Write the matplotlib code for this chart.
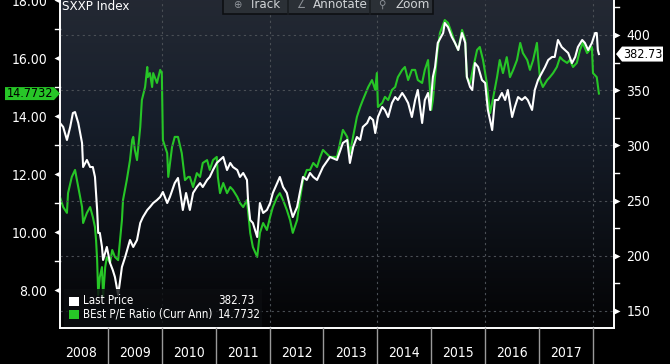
import numpy as np
import matplotlib
matplotlib.use("Agg")
import matplotlib.pyplot as plt
from matplotlib.patches import Rectangle, Polygon
from matplotlib import transforms

plt.rcParams['font.family'] = ['DejaVu Sans']
plt.rcParams['font.stretch'] = 'condensed'

# ---------------- data ----------------
price_dates = [2008.11, 2008.17, 2008.24, 2008.30, 2008.35, 2008.39, 2008.45, 2008.52, 2008.54, 2008.61,
               2008.67, 2008.72, 2008.76, 2008.80, 2008.82, 2008.85, 2008.89, 2008.91, 2008.98, 2009.04,
               2009.09, 2009.13, 2009.19, 2009.26, 2009.32, 2009.41, 2009.47, 2009.54, 2009.60, 2009.65,
               2009.73, 2009.78, 2009.84, 2009.91, 2009.97, 2010.02, 2010.10, 2010.15, 2010.24, 2010.30,
               2010.34, 2010.39, 2010.45, 2010.52, 2010.58, 2010.65, 2010.71, 2010.76, 2010.84, 2010.89,
               2010.95, 2011.02, 2011.08, 2011.14, 2011.21, 2011.27, 2011.32, 2011.40, 2011.45, 2011.51,
               2011.58, 2011.60, 2011.64, 2011.69, 2011.77, 2011.82, 2011.88, 2011.95, 2012.01, 2012.06,
               2012.14, 2012.19, 2012.25, 2012.32, 2012.38, 2012.43, 2012.51, 2012.56, 2012.62, 2012.69,
               2012.75, 2012.81, 2012.88, 2012.94, 2012.99, 2013.12, 2013.25, 2013.36, 2013.44, 2013.49,
               2013.55, 2013.62, 2013.68, 2013.73, 2013.81, 2013.86, 2013.92, 2013.96, 2014.01, 2014.09,
               2014.14, 2014.20, 2014.27, 2014.33, 2014.38, 2014.46, 2014.51, 2014.57, 2014.64, 2014.70,
               2014.75, 2014.83, 2014.88, 2014.94, 2014.98, 2015.03, 2015.07, 2015.12, 2015.22, 2015.25,
               2015.31, 2015.38, 2015.44, 2015.50, 2015.57, 2015.63, 2015.66, 2015.72, 2015.76, 2015.81,
               2015.87, 2015.94, 2016.00, 2016.05, 2016.13, 2016.18, 2016.24, 2016.31, 2016.37, 2016.42,
               2016.50, 2016.55, 2016.61, 2016.68, 2016.74, 2016.79, 2016.87, 2016.92, 2016.98, 2017.05,
               2017.11, 2017.17, 2017.24, 2017.29, 2017.35, 2017.42, 2017.48, 2017.54, 2017.61, 2017.67,
               2017.72, 2017.80, 2017.85, 2017.91, 2017.98, 2018.04, 2018.07, 2018.09, 2018.11]
price_values = [320.3, 316.7, 304.9, 316.7, 329.3, 330.2, 320.3, 302.2, 280.4, 286.8,
                280.4, 280.4, 271.4, 241.5, 220.7, 220.7, 208.0, 196.2, 208.0, 193.5,
                187.1, 180.8, 164.5, 189.9, 198.9, 214.3, 208.0, 214.3, 229.7, 235.1,
                241.5, 244.2, 247.8, 250.5, 253.3, 257.8, 247.8, 253.3, 265.9, 270.5,
                258.0, 241.5, 256.9, 241.5, 256.9, 262.3, 265.9, 262.3, 268.7, 271.4,
                277.7, 284.1, 286.8, 289.5, 277.7, 284.1, 280.4, 277.7, 271.4, 275.0,
                268.7, 250.5, 232.4, 229.7, 217.0, 247.8, 238.8, 241.5, 247.8, 256.9,
                265.9, 271.4, 262.3, 256.9, 244.2, 235.1, 244.2, 256.9, 271.4, 268.7,
                275.0, 271.4, 268.7, 275.0, 280.4, 289.5, 286.8, 302.2, 304.9, 284.1,
                298.5, 307.6, 304.9, 316.7, 320.3, 325.7, 323.0, 311.2, 325.7, 334.8,
                332.1, 325.7, 338.4, 343.8, 341.1, 347.5, 343.8, 338.4, 325.7, 341.1,
                350.2, 320.3, 341.1, 347.5, 332.1, 362.0, 371.0, 392.8, 401.8, 410.9,
                407.2, 398.2, 392.8, 386.4, 401.8, 392.8, 362.0, 352.9, 350.2, 374.6,
                371.0, 359.2, 356.5, 332.1, 313.9, 341.1, 341.1, 347.5, 341.1, 350.2,
                325.7, 334.8, 343.8, 341.1, 343.8, 341.1, 332.1, 350.2, 359.2, 365.6,
                371.0, 377.4, 380.1, 380.1, 395.5, 389.1, 386.4, 383.7, 374.6, 380.1,
                389.1, 395.5, 392.8, 386.4, 392.8, 401.8, 401.8, 386.4, 382.73]

pe_dates = [2008.11, 2008.17, 2008.24, 2008.26, 2008.33, 2008.39, 2008.45, 2008.52, 2008.54, 2008.61,
            2008.67, 2008.72, 2008.76, 2008.78, 2008.80, 2008.82, 2008.85, 2008.89, 2008.91, 2008.95,
            2008.98, 2009.04, 2009.08, 2009.13, 2009.19, 2009.22, 2009.26, 2009.28, 2009.35, 2009.41,
            2009.45, 2009.47, 2009.50, 2009.54, 2009.60, 2009.63, 2009.69, 2009.73, 2009.74, 2009.78,
            2009.82, 2009.84, 2009.91, 2009.97, 2010.00, 2010.02, 2010.10, 2010.12, 2010.19, 2010.24,
            2010.30, 2010.37, 2010.43, 2010.49, 2010.52, 2010.58, 2010.65, 2010.71, 2010.76, 2010.84,
            2010.89, 2010.95, 2011.02, 2011.04, 2011.08, 2011.14, 2011.21, 2011.27, 2011.32, 2011.40,
            2011.45, 2011.51, 2011.58, 2011.64, 2011.69, 2011.77, 2011.82, 2011.88, 2011.95, 2012.01,
            2012.06, 2012.14, 2012.19, 2012.25, 2012.32, 2012.38, 2012.43, 2012.51, 2012.56, 2012.62,
            2012.69, 2012.75, 2012.81, 2012.88, 2012.94, 2012.99, 2013.12, 2013.25, 2013.36, 2013.44,
            2013.49, 2013.62, 2013.68, 2013.73, 2013.83, 2013.90, 2013.96, 2013.99, 2014.01, 2014.09,
            2014.14, 2014.20, 2014.27, 2014.33, 2014.38, 2014.46, 2014.51, 2014.57, 2014.64, 2014.70,
            2014.75, 2014.83, 2014.88, 2014.94, 2015.00, 2015.03, 2015.11, 2015.16, 2015.25, 2015.31,
            2015.38, 2015.44, 2015.50, 2015.57, 2015.63, 2015.66, 2015.72, 2015.78, 2015.85, 2015.90,
            2015.96, 2016.03, 2016.09, 2016.14, 2016.22, 2016.27, 2016.33, 2016.40, 2016.46, 2016.52,
            2016.59, 2016.65, 2016.70, 2016.78, 2016.83, 2016.89, 2016.96, 2016.98, 2017.02, 2017.07,
            2017.15, 2017.20, 2017.26, 2017.33, 2017.39, 2017.44, 2017.52, 2017.57, 2017.63, 2017.70,
            2017.76, 2017.81, 2017.89, 2017.94, 2017.98, 2018.00, 2018.07, 2018.11]
pe_values = [11.21, 10.86, 10.66, 11.34, 11.90, 12.14, 11.55, 10.86, 10.31, 10.66,
             10.86, 10.52, 10.17, 9.72, 9.03, 7.83, 8.45, 8.79, 7.76, 8.79,
             9.14, 8.93, 9.38, 9.14, 9.03, 9.62, 10.41, 11.10, 11.79, 12.48,
             13.17, 13.28, 12.83, 12.48, 13.62, 14.55, 15.00, 15.69, 15.34, 15.48,
             15.00, 15.48, 15.14, 15.59, 15.48, 13.17, 12.72, 11.90, 12.93, 13.28,
             13.28, 12.72, 11.79, 11.90, 11.90, 11.55, 12.03, 11.90, 12.38, 12.48,
             12.14, 12.48, 12.59, 11.90, 11.34, 11.69, 11.34, 11.55, 11.45, 11.21,
             11.00, 10.86, 11.10, 9.97, 9.48, 9.14, 9.97, 10.31, 10.07, 10.52,
             10.86, 11.21, 11.34, 11.10, 10.76, 10.41, 9.97, 10.41, 11.10, 11.79,
             12.14, 12.14, 12.38, 12.24, 12.59, 12.83, 12.59, 12.59, 13.52, 13.28,
             12.72, 13.97, 14.31, 14.55, 15.00, 15.24, 14.90, 15.48, 14.31, 14.45,
             14.66, 14.55, 14.90, 15.00, 15.34, 15.59, 15.69, 15.24, 15.59, 15.59,
             15.24, 15.14, 15.59, 15.93, 14.21, 14.55, 16.17, 16.86, 17.31, 17.21,
             16.86, 16.52, 16.28, 16.97, 16.62, 15.34, 15.14, 15.69, 16.28, 16.38,
             15.93, 15.14, 14.10, 14.55, 15.34, 15.93, 15.48, 16.03, 15.34, 15.59,
             15.93, 16.52, 16.17, 15.93, 15.59, 15.93, 16.52, 16.03, 15.24, 15.00,
             15.24, 15.34, 15.48, 15.69, 16.03, 15.93, 15.83, 15.93, 15.69, 15.83,
             16.28, 16.52, 16.17, 16.28, 16.38, 15.48, 15.34, 14.7732]

years = ['2008', '2009', '2010', '2011', '2012', '2013', '2014', '2015', '2016', '2017']
pe_ticks = [8, 10, 12, 14, 16, 18]
price_ticks = [150, 200, 250, 300, 350, 400]
series_names = ['Last Price', 'BEst P/E Ratio (Curr Ann)']
last_price_label = '382.73'
last_pe_label = '14.7732'
title_text = 'SXXP Index'
toolbar_items = ['Track', 'Annotate', 'Zoom']

# ---------------- style ----------------
W, H = 670, 364
GREEN = '#27c627'
fig = plt.figure(figsize=(W / 100, H / 100), dpi=100, facecolor='black')


def fx(x):
    return x / W


def fy(y):
    return 1 - y / H


AX_L, AX_R, AX_T, AX_B = 60, 614, 0, 328
ax = fig.add_axes([fx(AX_L), fy(AX_B), fx(AX_R - AX_L), (AX_B - AX_T) / H])
ax2 = ax.twinx()

XMIN, XMAX = 2008.111, 2018.39
ax.set_xlim(XMIN, XMAX)
ax.set_ylim(6.69, 18.0)
ax2.set_ylim(134.6, 431.7)

# gradient background
grad = np.linspace(0, 1, 256)
top = np.array([0.14, 0.16, 0.20])
mid = np.array([0.09, 0.12, 0.17])
bot = np.array([0.015, 0.015, 0.02])
cols = []
for g in grad:
    if g < 0.35:
        t = g / 0.35
        c = top * (1 - t) + mid * t
    else:
        t = (g - 0.35) / 0.65
        c = mid * (1 - t) + bot * t
    cols.append(c)
img = np.array(cols)[:, None, :]
ax.imshow(img, extent=[0, 1, 0, 1], transform=ax.transAxes, aspect='auto', zorder=0,
          interpolation='bilinear')
ax.set_facecolor('black')

# grid
for v in price_ticks:
    ax2.axhline(v, color='#4a4f55', lw=0.8, ls=(0, (2, 3)), zorder=1)
for yr in [2010, 2012, 2014, 2016, 2018]:
    ax.axvline(yr, color='#4a4f55', lw=0.8, ls=(0, (2, 3)), zorder=1)

# lines
ax.plot(pe_dates, pe_values, color=GREEN, lw=1.5, zorder=3)
ax2.plot(price_dates, price_values, color='white', lw=1.5, zorder=3)

# spines
for a in (ax, ax2):
    a.spines['top'].set_visible(False)
    for s in ('left', 'right', 'bottom'):
        a.spines[s].set_color('white')
        a.spines[s].set_linewidth(1.2)
    a.set_xticks([])
    a.tick_params(axis='y', length=0)

ax.set_yticks(pe_ticks)
ax.set_yticklabels(['%.2f' % v for v in pe_ticks], color='white', fontsize=10)
ax.tick_params(axis='y', pad=9)
ax2.set_yticks(price_ticks)
ax2.set_yticklabels([str(v) for v in price_ticks], color='white', fontsize=10)
ax2.tick_params(axis='y', pad=9)

# triangle ticks and minor ticks
left_tr = transforms.blended_transform_factory(ax.transAxes, ax.transData)
right_tr = transforms.blended_transform_factory(ax2.transAxes, ax2.transData)
for v in pe_ticks:
    ax.plot([0], [v], marker='<', ms=5, color='white', mec='none', clip_on=False,
            transform=left_tr + transforms.ScaledTranslation(-3 / 100, 0, fig.dpi_scale_trans), zorder=5)
for v in [9, 11, 13, 15, 17]:
    ax.plot([-0.009, 0], [v, v], color='white', lw=1, clip_on=False, transform=left_tr, zorder=5)
for v in price_ticks:
    ax2.plot([1], [v], marker='>', ms=5, color='white', mec='none', clip_on=False,
             transform=right_tr + transforms.ScaledTranslation(3 / 100, 0, fig.dpi_scale_trans), zorder=5)
for v in [175, 225, 275, 325, 375, 425]:
    ax2.plot([1, 1.009], [v, v], color='white', lw=1, clip_on=False, transform=right_tr, zorder=5)

# year labels and separators
for yr in years:
    y0 = int(yr)
    xd = (y0 + 0.5 - XMIN) / (XMAX - XMIN)
    fig.text(fx(AX_L + xd * (AX_R - AX_L)), fy(353), yr, color='white', fontsize=10,
             ha='center', va='center')
for y0 in range(2009, 2019):
    xd = (y0 - XMIN) / (XMAX - XMIN)
    xp = AX_L + xd * (AX_R - AX_L)
    fig.add_artist(plt.Line2D([fx(xp), fx(xp)], [fy(AX_B), 0], color='#9a9a9a', lw=1,
                              transform=fig.transFigure))

# title
fig.text(fx(62), fy(7), title_text, color='white', fontsize=9.5, ha='left', va='center')

# legend box
fig.add_artist(Rectangle((fx(64), fy(327)), fx(262 - 64), (327 - 289) / H, transform=fig.transFigure,
                         facecolor='#0b0d10', alpha=0.82, edgecolor='none', zorder=10))
for i, (name, val, col) in enumerate(zip(series_names, [last_price_label, last_pe_label], ['white', GREEN])):
    yc = 301 + i * 13
    fig.add_artist(Rectangle((fx(69), fy(yc + 4.5)), fx(10), 9 / H, transform=fig.transFigure,
                             facecolor=col, edgecolor='none', zorder=11))
    fig.text(fx(83), fy(yc), name, color='white', fontsize=8.3, ha='left', va='center', zorder=12)
    fig.text(fx(218), fy(yc), val, color='white', fontsize=8.3, ha='left', va='center', zorder=12)

# toolbar
fig.add_artist(Rectangle((fx(223), fy(14)), fx(433 - 223), 20 / H, transform=fig.transFigure,
                         facecolor='#2b3036', edgecolor='#0d0f12', lw=1.2, zorder=10))
for xs in [288, 370]:
    fig.add_artist(plt.Line2D([fx(xs), fx(xs)], [fy(14), 1], color='#1a1d21', lw=1.2,
                              transform=fig.transFigure, zorder=11))
icons = ['\u2295', '\u2220', '\u26b2']
icon_x = [237, 301, 382]
text_x = [249, 313, 395]
for ic, ix, tx, lab in zip(icons, icon_x, text_x, toolbar_items):
    fig.text(fx(ix), fy(5), ic, color='#8d9298', fontsize=8, ha='center', va='center', zorder=12)
    fig.text(fx(tx), fy(5), lab, color='#d0d3d6', fontsize=9.5, ha='left', va='center', zorder=12)

# value tags
fig.canvas.draw()
ye = ax.transData.transform((2018, pe_values[-1]))[1]
yp = ax2.transData.transform((2018, price_values[-1]))[1]
ye_f = ye / H
yp_f = yp / H
h = 6.5 / H
fig.add_artist(Polygon([[fx(5), ye_f - h], [fx(54), ye_f - h], [fx(60), ye_f], [fx(54), ye_f + h],
                        [fx(5), ye_f + h]], closed=True, transform=fig.transFigure,
                       facecolor=GREEN, edgecolor='none', zorder=12))
fig.text(fx(30), ye_f, last_pe_label, color='black', fontsize=9, ha='center', va='center', zorder=13)
fig.add_artist(Polygon([[fx(616), yp_f], [fx(622), yp_f + h + 1 / H], [fx(663), yp_f + h + 1 / H],
                        [fx(663), yp_f - h - 1 / H], [fx(622), yp_f - h - 1 / H]], closed=True,
                       transform=fig.transFigure, facecolor='white', edgecolor='none', zorder=12))
fig.text(fx(643), yp_f, last_price_label, color='black', fontsize=9, ha='center', va='center', zorder=13)

fig.savefig('out.png', dpi=100, facecolor='black')
